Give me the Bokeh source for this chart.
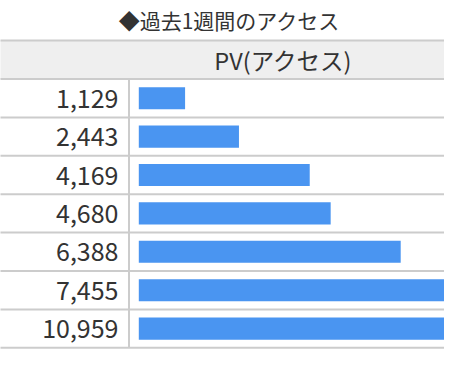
from bokeh.plotting import figure
from bokeh.models import Range1d, ColumnDataSource
from bokeh.core.properties import value
from bokeh.embed import file_html
from bokeh.resources import INLINE

# ---- data ----
title_text = "◆過去1週間のアクセス"
header_text = "PV(アクセス)"
pv_values = [1129, 2443, 4169, 4680, 6388, 7455, 10959]
pv_labels = [f"{v:,}" for v in pv_values]

# ---- layout constants (picture pixels) ----
W, H = 444, 364
PX_PER_UNIT = 0.041      # pixels per PV unit
X0_PX = 138.3            # picture x of value 0
ROW_PX = 38.4            # row height
Y0_PX = 97.7             # picture y of row 0 centre
LEFT_PX, TOP_PX = 0, 0

def vx(px):
    return (px - X0_PX) / PX_PER_UNIT

def ry(px):
    return (px - Y0_PX) / ROW_PX

FONT = "Noto Sans CJK JP"
TXT = "#333333"
GRID = "#cccccc"

p = figure(width=W, height=H, output_backend="svg", toolbar_location=None,
           x_range=Range1d(vx(LEFT_PX), vx(LEFT_PX + W)),
           y_range=Range1d(ry(TOP_PX + H), ry(TOP_PX)),
           min_border=0, min_border_left=0, min_border_right=0,
           min_border_top=0, min_border_bottom=0)
p.axis.visible = False
p.grid.visible = False
p.outline_line_color = None
p.background_fill_color = "white"
p.border_fill_color = "white"

n = len(pv_values)
rows = list(range(n))
xl, xr = vx(-10), vx(470)

# header background
p.quad(left=[xl], right=[xr], top=[-1.5], bottom=[-0.5],
       fill_color="#efefef", line_color=None)

# bars
src = ColumnDataSource(dict(y=rows, v=pv_values, lab=pv_labels))
p.hbar(y="y", left=0, right="v", height=0.575, source=src,
       fill_color="#4a95f1", line_color=None)

# horizontal rules
ys = [-1.5 + i for i in range(n + 2)]
p.segment(x0=[xl] * len(ys), x1=[xr] * len(ys), y0=ys, y1=ys,
          line_color=GRID, line_width=2)
# vertical divider
p.segment(x0=[vx(128.5)], x1=[vx(128.5)], y0=[-0.5], y1=[n - 0.5],
          line_color=GRID, line_width=2)

# number labels
p.text(x=vx(118), y="y", text="lab", source=src,
       text_font=value(FONT), text_font_size="25px",
       text_align="right", text_baseline="middle", text_color=TXT)

# header text
p.text(x=[vx(283)], y=[-1], text=[header_text],
       text_font=value(FONT), text_font_size="23.5px",
       text_align="center", text_baseline="middle", text_color=TXT)

# title
p.text(x=[vx(229)], y=[ry(19.5)], text=[title_text],
       text_font=value(FONT), text_font_size="21px",
       text_align="center", text_baseline="middle", text_color=TXT)

open("out.html", "w").write(file_html(p, INLINE))
